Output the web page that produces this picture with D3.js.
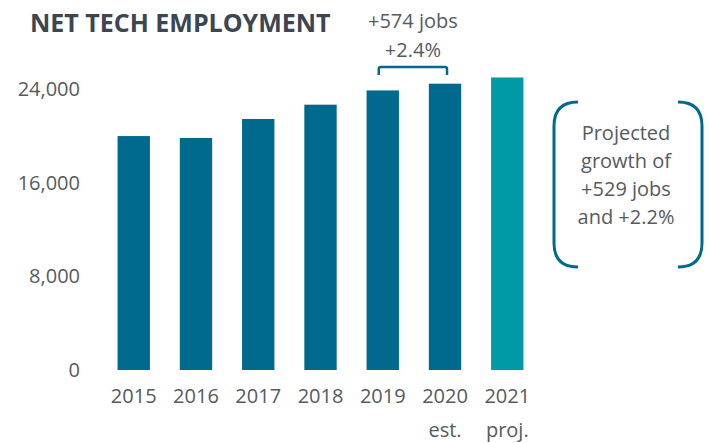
<!DOCTYPE html>
<html><head><meta charset="utf-8">
<script src="https://cdn.jsdelivr.net/npm/d3@7"></script>
<style>body{margin:0;background:#fff}</style>
</head><body>
<svg id="c" width="709" height="443"></svg>
<script>
const years = ["2015","2016","2017","2018","2019","2020","2021"];
const subLabels = ["","","","","","est.","proj."];
const values = [19980, 19820, 21440, 22660, 23880, 24454, 24983];
const barColors = ["#006a8e","#006a8e","#006a8e","#006a8e","#006a8e","#006a8e","#0099a6"];
const yTicks = [0, 8000, 16000, 24000];
const title = "NET TECH EMPLOYMENT";
const growthNote = ["+574 jobs", "+2.4%"];
const projNote = ["Projected", "growth of", "+529 jobs", "and +2.2%"];

const svg = d3.select("#c");
const font = "'Open Sans', sans-serif";
const textCol = "#555b61";

const x = d3.scaleBand().domain(years).range([102.6, 538.4]).paddingInner(0.48).paddingOuter(0.24);
const y = d3.scaleLinear().domain([0, 24000]).range([370, 89]);

svg.append("text").attr("x", 30).attr("y", 32)
  .attr("font-family", font).attr("font-weight", 700).attr("font-size", 25)
  .attr("fill", "#3b4650").text(title);

// y axis
const yAxis = d3.axisLeft(y).tickValues(yTicks).tickSize(0).tickPadding(0)
  .tickFormat(d3.format(","));
const ya = svg.append("g").attr("transform", "translate(80,0)").call(yAxis);
ya.select(".domain").remove();
ya.selectAll("text").attr("font-family", font).attr("font-size", 20).attr("fill", textCol);

// bars
svg.selectAll("rect.bar").data(years).join("rect").attr("class","bar")
  .attr("x", d => x(d)).attr("width", x.bandwidth())
  .attr("y", (d,i) => y(values[i])).attr("height", (d,i) => y(0) - y(values[i]))
  .attr("fill", (d,i) => barColors[i]);

// x axis
const xAxis = d3.axisBottom(x).tickSize(0).tickPadding(0);
const xa = svg.append("g").attr("transform", "translate(0,389)").call(xAxis);
xa.select(".domain").remove();
xa.selectAll("text").attr("font-family", font).attr("font-size", 20).attr("fill", textCol)
  .attr("dy", "0.71em");
xa.selectAll(".tick").append("text")
  .attr("y", 34).attr("dy", "0.71em").attr("text-anchor","middle")
  .attr("font-family", font).attr("font-size", 20).attr("fill", textCol)
  .text((d,i) => subLabels[i]);

// growth bracket between 2019 and 2020
const bx0 = x("2019") + x.bandwidth()/2 - 4, bx1 = x("2020") + x.bandwidth()/2 + 2;
const bTop = 67, bBot = 75;
svg.append("path")
  .attr("d", `M${bx0},${bBot} L${bx0},${bTop+2} Q${bx0},${bTop} ${bx0+2},${bTop} L${bx1-2},${bTop} Q${bx1},${bTop} ${bx1},${bTop+2} L${bx1},${bBot}`)
  .attr("fill","none").attr("stroke","#006a8e").attr("stroke-width",2.5);
const cx = (bx0 + bx1)/2;
growthNote.forEach((t,i) => svg.append("text").attr("x", cx).attr("y", 28 + i*29)
  .attr("text-anchor","middle").attr("font-family", font).attr("font-size", 20)
  .attr("fill", textCol).text(t));

// projection bracket box
const L = 554, R = 702, T = 102, B = 267, r = 24, lt = 578, rt = 678;
svg.append("path")
  .attr("d", `M${lt},${T} L${L+r},${T} Q${L},${T} ${L},${T+r} L${L},${B-r} Q${L},${B} ${L+r},${B} L${lt},${B}`)
  .attr("fill","none").attr("stroke","#006a8e").attr("stroke-width",3);
svg.append("path")
  .attr("d", `M${rt},${T} L${R-r},${T} Q${R},${T} ${R},${T+r} L${R},${B-r} Q${R},${B} ${R-r},${B} L${rt},${B}`)
  .attr("fill","none").attr("stroke","#006a8e").attr("stroke-width",3);
projNote.forEach((t,i) => svg.append("text").attr("x", 626).attr("y", 140 + i*28)
  .attr("text-anchor","middle").attr("font-family", font).attr("font-size", 20)
  .attr("fill", textCol).text(t));
</script>
</body></html>
